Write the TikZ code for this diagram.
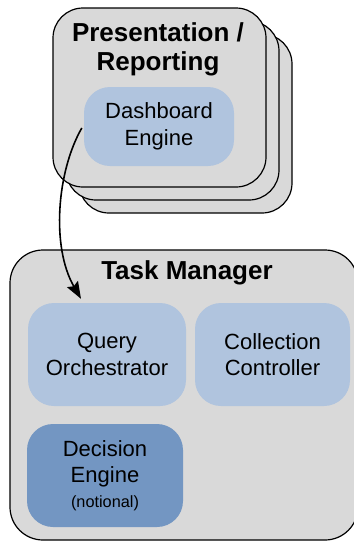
\documentclass[tikz,border=0pt]{standalone}
\usepackage{fontspec}
\setmainfont{Liberation Sans}
\usetikzlibrary{calc,arrows.meta}
\definecolor{boxgray}{RGB}{217,217,217}
\definecolor{lightblue}{RGB}{176,196,222}
\definecolor{darkblue}{RGB}{115,150,194}
\tikzset{
  stackbox/.style={draw=black, line width=1.2pt, fill=boxgray, rounded corners=30pt,
    minimum width=213pt, minimum height=179pt, inner sep=0pt},
  groupbox/.style={draw=black, line width=1.2pt, fill=boxgray, rounded corners=33pt,
    minimum width=348pt, minimum height=290pt, inner sep=0pt},
  compbox/.style={fill=lightblue, rounded corners=26pt, inner sep=0pt, align=center,
    font=\fontsize{22}{26.5}\selectfont},
  darkcomp/.style={compbox, fill=darkblue},
  titletext/.style={inner sep=0pt, align=center, font=\bfseries\fontsize{26}{28.5}\selectfont},
  flowarrow/.style={draw=black, line width=1.6pt, -{Stealth[length=17pt,width=12.5pt,inset=2.5pt]}}
}
\begin{document}
\begin{tikzpicture}[x=1pt,y=-1pt]
\useasboundingbox (0,0) rectangle (354,542);
% stacked presentation boxes
\node[stackbox] (pres3) at (185.5,123.5) {};
\node[stackbox] (pres2) at (172.5,110.5) {};
\node[stackbox] (pres1) at (159.5,97.5) {};
\node[titletext] (prestitle) at (158,49.5) {Presentation /\\Reporting};
\node[compbox, minimum width=150pt, minimum height=79pt] (dash) at (159,126.5) {Dashboard\\Engine};
% task manager
\node[groupbox] (task) at (184,395) {};
\node[titletext, anchor=base] (tasktitle) at (187,279.3) {Task Manager};
\node[compbox, minimum width=158pt, minimum height=103pt] (query) at (107,354.5) {Query\\Orchestrator};
\node[compbox, minimum width=155pt, minimum height=103pt] (coll) at (272.5,354.5) {Collection\\Controller};
\node[darkcomp, minimum width=156pt, minimum height=103pt] (dec) at (105,475.5)
  {Decision\\Engine\\[-2pt]{\fontsize{16.3}{19}\selectfont (notional)}};
% arrow
\coordinate (arrowstart) at ($(dash.west)+(-2,1.5)$);
\coordinate (arrowend) at ($(query.north)+(-26,-4)$);
\draw[flowarrow] (arrowstart) .. controls +(-25,43.5) and +(-30,-52) .. (arrowend);
\end{tikzpicture}
\end{document}
